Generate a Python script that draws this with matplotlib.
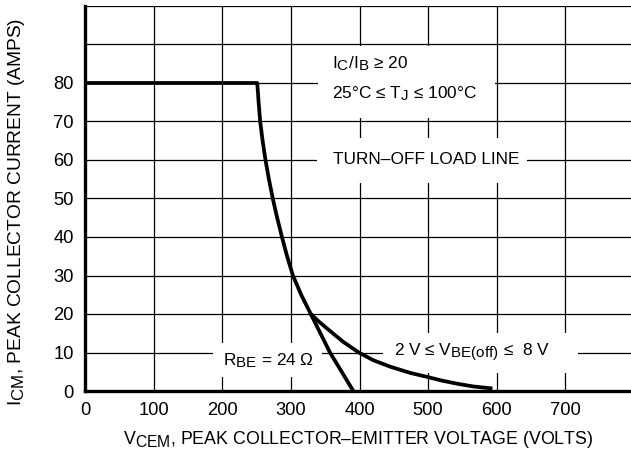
import matplotlib
matplotlib.use("Agg")
import matplotlib.pyplot as plt
import matplotlib._mathtext as mt
from matplotlib.patches import Rectangle

plt.rcParams["font.family"] = ["Liberation Sans", "DejaVu Sans"]
plt.rcParams["mathtext.fontset"] = "custom"
plt.rcParams["mathtext.rm"] = "Liberation Sans"
plt.rcParams["mathtext.it"] = "Liberation Sans"
# the datasheet uses nearly full size subscripts
mt.SHRINK_FACTOR = 0.88

# safe operating curve, R_BE = 24 ohm branch
rbe_x = [2, 251, 253, 255.3, 258.8, 263, 268, 273.6, 280, 287, 294.5, 303,
         315, 329, 343, 357, 374, 391]
rbe_y = [80, 80, 75, 70, 65, 60, 55, 50, 45, 40, 35, 30,
         25, 20, 15, 10, 5, 0]

# 2 V <= VBE(off) <= 8 V branch
vbe_x = [329, 341, 355, 376, 399, 420, 445, 474, 500, 520, 542, 565, 591]
vbe_y = [20, 18, 15.9, 12.8, 10, 8, 6.3, 4.7, 3.6, 2.7, 1.9, 1.2, 0.7]

x_ticks = [0, 100, 200, 300, 400, 500, 600, 700, 800]
x_labels = ["0", "100", "200", "300", "400", "500", "600", "700", ""]
y_ticks = [0, 10, 20, 30, 40, 50, 60, 70, 80, 90, 100]
y_labels = ["0", "10", "20", "30", "40", "50", "60", "70", "80", "", ""]

fs = 12.4

fig = plt.figure(figsize=(6.31, 4.58), dpi=100)
ax = fig.add_axes([85 / 631, 67 / 458, 549 / 631, 385 / 458])
ax.set_xlim(0, 800)
ax.set_ylim(0, 100)

ax.set_xticks(x_ticks)
ax.set_xticklabels(x_labels)
ax.set_yticks(y_ticks)
ax.set_yticklabels(y_labels)
ax.tick_params(length=0, labelsize=13.2, pad=8)
ax.grid(True, color="black", linewidth=0.9)
ax.set_axisbelow(True)

for s in ["top", "right"]:
    ax.spines[s].set_visible(False)
for s in ["left", "bottom"]:
    ax.spines[s].set_linewidth(2.4)


# white label boxes that break the grid
def blank(x0, y0, x1, y1):
    ax.add_patch(Rectangle((x0, y0), x1 - x0, y1 - y0, facecolor="white",
                           edgecolor="none", zorder=1))


blank(339, 71, 597, 89.5)
blank(338, 54, 644, 65.8)
blank(186, 3.6, 345, 12.5)
blank(434, 4.7, 718, 15)

ax.plot(rbe_x, rbe_y, color="black", linewidth=2.7, zorder=3,
        solid_joinstyle="round")
ax.plot(vbe_x, vbe_y, color="black", linewidth=2.7, zorder=3,
        solid_joinstyle="round")

ax.text(360, 85, r"I$_\mathregular{C}$/I$_\mathregular{B}$ ≥ 20",
        fontsize=fs, va="center", zorder=4)
ax.text(360, 77.3, r"25°C ≤ T$_\mathregular{J}$ ≤ 100°C",
        fontsize=fs, va="center", zorder=4)
ax.text(361, 60, "TURN–OFF LOAD LINE", fontsize=fs, va="center", zorder=4)
ax.text(201, 7.8, r"R$_\mathregular{BE}$ = 24 Ω", fontsize=fs, va="center",
        zorder=4)
ax.text(450, 9.8, r"2 V ≤ V$_\mathregular{BE(off)}$ ≤  8 V", fontsize=fs,
        va="center", zorder=4)

fig.text(17 / 631, 1 - 212 / 458,
         r"I$_\mathregular{CM}$, PEAK COLLECTOR CURRENT (AMPS)",
         rotation=90, ha="center", va="center", fontsize=13.8)
fig.text(358 / 631, 1 - 440 / 458,
         r"V$_\mathregular{CEM}$, PEAK COLLECTOR–EMITTER VOLTAGE (VOLTS)",
         ha="center", va="center", fontsize=12.8)

fig.savefig("out.png", dpi=100)
